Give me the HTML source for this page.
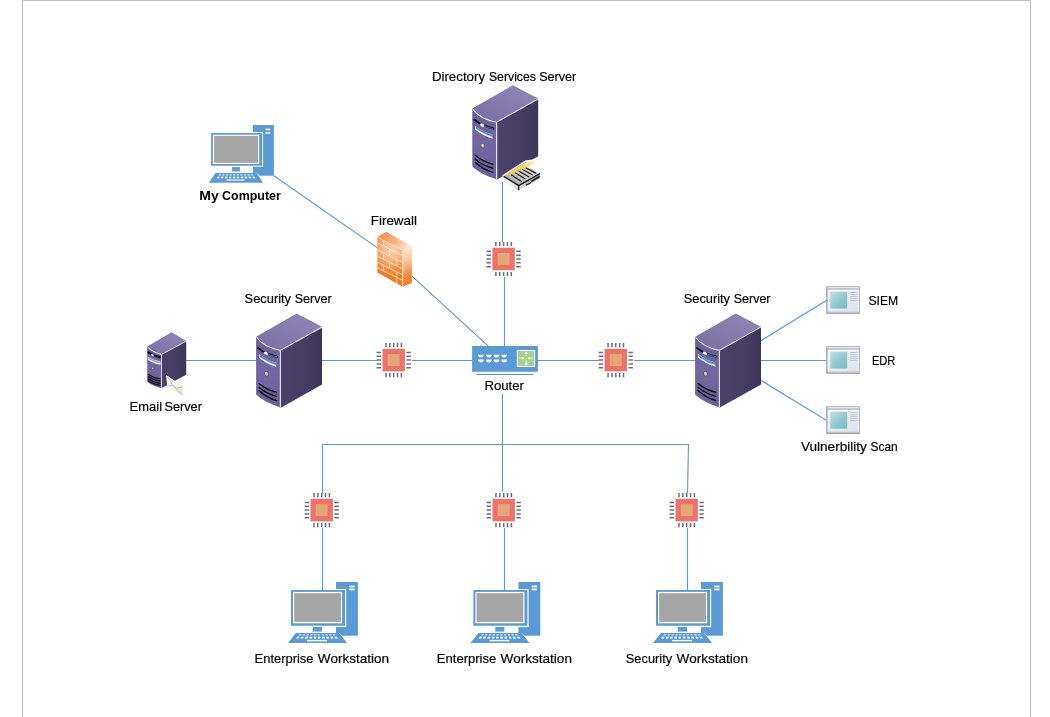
<!DOCTYPE html>
<html lang="en">
<head>
<meta charset="utf-8">
<title>Network Diagram</title>
<style>
html,body{margin:0;padding:0;background:#fff;overflow:hidden}
body{width:1050px;height:717px;position:relative}
svg{position:absolute;left:0;top:0;display:block;will-change:transform}
text{font-family:"Liberation Sans",Arial,sans-serif;font-size:12.7px;fill:#000;stroke:#000;stroke-width:0.18px}
.b{font-weight:bold;stroke-width:0}
.ln{stroke:#5b9bd5;stroke-width:1.15;fill:none}
</style>
</head>
<body>
<svg width="1050" height="717" viewBox="0 0 1050 717">
<defs>
<!-- gradients -->
<linearGradient id="gTop" x1="0" y1="1" x2="1" y2="0"><stop offset="0" stop-color="#7a6ea4"/><stop offset="1" stop-color="#9187b6"/></linearGradient>
<linearGradient id="gLeft" x1="0" y1="0" x2="0" y2="1"><stop offset="0" stop-color="#6a5e96"/><stop offset="0.5" stop-color="#7466a3"/><stop offset="1" stop-color="#6c5f99"/></linearGradient>
<linearGradient id="gRight" x1="0" y1="0" x2="1" y2="0"><stop offset="0" stop-color="#4b416b"/><stop offset="0.6" stop-color="#463d64"/><stop offset="1" stop-color="#3d3558"/></linearGradient>
<radialGradient id="gFwF" gradientUnits="userSpaceOnUse" cx="392.5" cy="250" r="27"><stop offset="0" stop-color="#fcd2b2"/><stop offset="0.35" stop-color="#fab685"/><stop offset="0.7" stop-color="#f68c40"/><stop offset="1" stop-color="#f47a20"/></radialGradient>
<linearGradient id="gFwT" gradientUnits="userSpaceOnUse" x1="380" y1="234" x2="408" y2="249"><stop offset="0" stop-color="#f68c45"/><stop offset="0.5" stop-color="#f9b283"/><stop offset="1" stop-color="#fde6d3"/></linearGradient>
<linearGradient id="gFwS" gradientUnits="userSpaceOnUse" x1="402" y1="249" x2="415" y2="282"><stop offset="0" stop-color="#fdeadb"/><stop offset="0.35" stop-color="#fbc7a3"/><stop offset="0.75" stop-color="#f58a3a"/><stop offset="1" stop-color="#f47b22"/></linearGradient>
<linearGradient id="gTeal" x1="0" y1="0" x2="1" y2="1"><stop offset="0" stop-color="#c2dfe3"/><stop offset="0.6" stop-color="#8cc5cd"/><stop offset="1" stop-color="#7bbcc6"/></linearGradient>
<linearGradient id="gWin" x1="0" y1="0" x2="1" y2="1"><stop offset="0" stop-color="#f3f6f8"/><stop offset="1" stop-color="#d9e3e6"/></linearGradient>
<linearGradient id="gYel" x1="0" y1="1" x2="1" y2="0"><stop offset="0" stop-color="#f3c22a"/><stop offset="0.6" stop-color="#f8d662"/><stop offset="1" stop-color="#fdf3cf"/></linearGradient>
<linearGradient id="gDrw" x1="0" y1="1" x2="1" y2="0"><stop offset="0" stop-color="#9a9a9a"/><stop offset="1" stop-color="#f4f4f4"/></linearGradient>
<linearGradient id="gDrwL" x1="0" y1="0" x2="1" y2="1"><stop offset="0" stop-color="#ffffff"/><stop offset="0.5" stop-color="#f1f1f1"/><stop offset="1" stop-color="#c4c4c4"/></linearGradient>
<linearGradient id="gDrwR" x1="0" y1="1" x2="1" y2="0"><stop offset="0" stop-color="#e8e8e8"/><stop offset="1" stop-color="#8a8a8a"/></linearGradient>
<linearGradient id="gEnv" gradientUnits="userSpaceOnUse" x1="168" y1="376" x2="180" y2="396"><stop offset="0" stop-color="#ffffff"/><stop offset="0.45" stop-color="#f6f3e8"/><stop offset="1" stop-color="#ebe4cd"/></linearGradient>

<!-- server 65.9 x 94.2 -->
<g id="srvBody">
  <path d="M40.6 0 L65.9 13.3 L24.9 36.6 L24.2 36.9 Q7 33.4 0 23.3 Z" fill="url(#gTop)"/>
  <path d="M0 23.3 Q7 33.4 24.2 36.9 L24.9 36.6 L24.9 94.1 L24.2 93.9 Q8 88.8 0 81.1 Z" fill="url(#gLeft)"/>
  <path d="M24.8 36.6 L65.9 13.3 L65.9 71 L24.8 94.2 Z" fill="url(#gRight)"/>
  <path d="M0.4 23.8 Q7.2 33.5 24.2 37 L65.7 13.7" fill="none" stroke="#efedf7" stroke-width="1.05"/>
  <path d="M24.3 37 L24.3 93.9" fill="none" stroke="#e8e5f2" stroke-width="1.15"/>
</g>
<g id="server">
  <use href="#srvBody"/>
  <!-- drive slot -->
  <path d="M2 34.5 Q10 40.8 21.2 43.2" fill="none" stroke="#0d0b14" stroke-width="1.9" stroke-linecap="round"/>
  <path d="M12.6 41 Q17 42.7 20.6 43.2" fill="none" stroke="#4b8fd6" stroke-width="0.8" stroke-linecap="round"/>
  <ellipse cx="9.9" cy="39.8" rx="2.4" ry="1.45" transform="rotate(24 9.9 39.8)" fill="#f4f4ec"/>
  <!-- bay -->
  <path d="M2.8 40.2 Q10.5 46.3 20.5 49 L20.5 53.4 Q10.5 50.6 2.8 44.2 Z" fill="#f7f8fc"/>
  <path d="M3.4 41 Q10.8 46.7 20.2 49.4 L20.2 51.4 Q10.8 48.8 3.4 43 Z" fill="#4a90d9"/>
  <path d="M2.9 40.3 Q10.5 46.3 20.5 49 L20.5 53" fill="none" stroke="#4a4468" stroke-width="0.5"/>
  <!-- led -->
  <ellipse cx="10.4" cy="60.4" rx="2.2" ry="2.7" transform="rotate(-12 10.4 60.4)" fill="#4a5a62"/>
  <ellipse cx="10.5" cy="60.4" rx="1.6" ry="2.1" transform="rotate(-12 10.5 60.4)" fill="#8fc4a4"/>
  <ellipse cx="10.1" cy="59.8" rx="0.9" ry="1.2" fill="#d2ecdb"/>
  <!-- vents -->
  <path d="M2.9 70 Q10.5 76.4 20.5 78.9 M2.9 73.9 Q10.5 80.3 20.5 82.9 M2.9 77.1 Q10.5 84.2 20.5 87.1" fill="none" stroke="#0d0b14" stroke-width="1.45" stroke-linecap="round"/>
</g>

<!-- chip 35x35, centre at 17.5,17.5 -->
<g id="chip">
  <rect x="6.3" y="6.3" width="22.4" height="22.4" fill="#f0706a"/>
  <rect x="11.5" y="11.5" width="12" height="12" fill="#e4a677"/>
  <path d="M9.8 0.4v4.2 M13.65 0.4v4.2 M17.5 0.4v4.2 M21.35 0.4v4.2 M25.2 0.4v4.2 M9.8 30.4v4.2 M13.65 30.4v4.2 M17.5 30.4v4.2 M21.35 30.4v4.2 M25.2 30.4v4.2 M0.4 9.8h4.4 M0.4 13.65h4.4 M0.4 17.5h4.4 M0.4 21.35h4.4 M0.4 25.2h4.4 M30.2 9.8h4.4 M30.2 13.65h4.4 M30.2 17.5h4.4 M30.2 21.35h4.4 M30.2 25.2h4.4" stroke="#6d6d7a" stroke-width="1.5" fill="none"/>
</g>

<!-- pc 70.5 x 61.1 -->
<g id="pc">
  <rect x="48.4" y="0.1" width="21.9" height="53.7" fill="#5b9bd5"/>
  <rect x="61.7" y="3.7" width="5.3" height="1.8" fill="#fff"/>
  <rect x="61.7" y="6.7" width="5.3" height="1.7" fill="#fff"/>
  <rect x="46" y="7.2" width="12.6" height="38" fill="#fff"/>
  <rect x="3.4" y="8.15" width="54" height="35.7" fill="#5b9bd5"/>
  <rect x="5.4" y="10" width="49.1" height="31.4" fill="#fff"/>
  <rect x="6.6" y="11.3" width="46.7" height="28.7" fill="#a5a5a5"/>
  <rect x="25.3" y="45.1" width="9.05" height="4.6" fill="#5b9bd5"/>
  <path d="M8.3 51.1 L51.9 51.1 L60.6 61.1 L-1 61.1 Z" fill="#fff"/>
  <path d="M8.3 51.1 L51.5 51.1 L59.5 61.1 L0.4 61.1 Z" fill="#5b9bd5"/>
  <path fill="#fff" fill-opacity="0.8" d="M11.75 52.40L13.89 52.40L13.20 53.60L10.96 53.60zM15.44 52.40L17.59 52.40L17.06 53.60L14.82 53.60zM19.14 52.40L21.28 52.40L20.92 53.60L18.68 53.60zM22.83 52.40L24.98 52.40L24.78 53.60L22.54 53.60zM26.53 52.40L28.67 52.40L28.64 53.60L26.40 53.60zM30.23 52.40L32.37 52.40L32.50 53.60L30.26 53.60zM33.92 52.40L36.07 52.40L36.36 53.60L34.12 53.60zM37.62 52.40L39.76 52.40L40.22 53.60L37.98 53.60zM41.31 52.40L43.46 52.40L44.08 53.60L41.84 53.60zM45.01 52.40L47.15 52.40L47.94 53.60L45.70 53.60z"/>
  <path fill="#fff" d="M9.59 54.90L12.08 54.90L11.13 56.50L8.52 56.50zM13.73 54.90L16.21 54.90L15.49 56.50L12.88 56.50zM17.87 54.90L20.35 54.90L19.86 56.50L17.24 56.50zM22.00 54.90L24.49 54.90L24.22 56.50L21.60 56.50zM26.14 54.90L28.62 54.90L28.58 56.50L25.96 56.50zM30.28 54.90L32.76 54.90L32.94 56.50L30.32 56.50zM34.41 54.90L36.90 54.90L37.30 56.50L34.68 56.50zM38.55 54.90L41.03 54.90L41.66 56.50L39.04 56.50zM42.69 54.90L45.17 54.90L46.02 56.50L43.41 56.50zM46.82 54.90L49.31 54.90L50.38 56.50L47.77 56.50z"/>
  <rect x="19.5" y="58" width="19.8" height="1.5" fill="#f3f8fc"/>
</g>

<!-- window 33.4 x 27.5 -->
<g id="win">
  <rect x="0.5" y="0.5" width="32.4" height="26.5" fill="#fff" stroke="#a8a8bc" stroke-width="1"/>
  <rect x="1" y="1" width="31.4" height="0.9" fill="#e2e4f0"/>
  <rect x="1" y="1.8" width="31.4" height="1.9" fill="#c0c4dc"/>
  <rect x="2" y="4.6" width="29.4" height="20.4" fill="url(#gWin)"/>
  <rect x="3.85" y="5.6" width="16.95" height="16.75" fill="url(#gTeal)"/>
  <path d="M23.7 6.3h7.2 M23.7 8.4h7.2 M23.7 10.4h7.2 M23.7 12.4h7.2 M23.7 14.3h7.2" stroke="#bac6d2" stroke-width="0.9"/>
  <path d="M1 25.4h31.4" stroke="#d4d6e6" stroke-width="1"/>
  <path d="M0 26.8h33.4" stroke="#9a9aae" stroke-width="1.2"/>
  <path d="M0.5 0.5v26.5" stroke="#a0a0b4" stroke-width="1"/>
</g>
</defs>

<!-- page border -->
<path d="M22.5 717 V0.5 H1030.5 V717" fill="none" stroke="#c0c0c0" stroke-width="1"/>

<!-- connectors -->
<g class="ln">
  <path d="M273.9 175.7 L377.4 247.9"/>
  <path d="M411.7 275.8 L488.3 346.2"/>
  <path d="M502.5 182 V242"/>
  <path d="M504.5 277 V347"/>
  <path d="M186 360.5 H257"/>
  <path d="M321 360.5 H377.2"/>
  <path d="M412 360.5 H473"/>
  <path d="M537 360.5 H599.3"/>
  <path d="M634 360.5 H696"/>
  <path d="M760.5 340.9 L826.7 300.2"/>
  <path d="M760.5 360.5 H827"/>
  <path d="M760.5 380.1 L826.7 420.4"/>
  <path d="M502.5 394 V491.8"/>
  <path d="M322.5 492.9 V444.5 H688.5 L687.5 492.9"/>
</g>

<!-- chips -->
<use href="#chip" x="486.1" y="241.5"/>
<use href="#chip" x="376.2" y="342.6"/>
<use href="#chip" x="598.3" y="342.6"/>
<use href="#chip" x="304.2" y="492.6"/>
<use href="#chip" x="486.2" y="492.6"/>
<use href="#chip" x="669.2" y="492.6"/>

<!-- servers -->
<use href="#server" x="472.3" y="85.3"/>
<use href="#server" x="256.1" y="313.5"/>
<use href="#server" x="695.1" y="313.4"/>
<g id="emailserver">
  <path d="M171.6 332.2 L186.2 341.05 L161.3 354.3 Q152 352 147.2 346.6 Z" fill="url(#gTop)"/>
  <path d="M147.2 346.6 Q152 352 161.3 354.3 L161.3 388.25 Q152 386.2 147.2 381.2 Z" fill="url(#gLeft)"/>
  <path d="M161.3 354.3 L186.2 341.05 L186.2 374.7 L161.3 388.25 Z" fill="url(#gRight)"/>
  <path d="M147.5 346.9 Q152 352.1 161.4 354.5 L186 341.3" fill="none" stroke="#ebe7f4" stroke-width="0.9"/>
  <path d="M161.5 354.6 V388" fill="none" stroke="#e6e2f0" stroke-width="0.9"/>
  <path d="M148.4 352.3 Q153 355.6 159.8 357.1" fill="none" stroke="#0d0b14" stroke-width="2.2" stroke-linecap="round"/>
  <ellipse cx="152.6" cy="355.1" rx="1.7" ry="1" transform="rotate(22 152.6 355.1)" fill="#f2f2ee"/>
  <path d="M148.1 357.3 Q153 360.4 160.1 361.8 L160.1 364.6 Q153 363 148.1 359.7 Z" fill="#eef2fa" stroke="#f6f6fb" stroke-width="0.7"/>
  <path d="M148.6 358.4 Q153 361 159.7 362.6" fill="none" stroke="#3d7fd0" stroke-width="0.9"/>
  <circle cx="152.8" cy="368.4" r="1.7" fill="#3f4f58"/>
  <circle cx="152.8" cy="368.4" r="1.05" fill="#8fcea6"/>
  <path d="M148.3 374.5 Q153 377.6 160 378.8 M148.3 376.8 Q153 379.9 160 381.1 M148.3 379.1 Q153 382.1 160 383.3 M148.3 381.3 Q153 384.2 160 385.4" fill="none" stroke="#0d0b14" stroke-width="1.3" stroke-linecap="round"/>
</g>

<!-- envelope -->
<g id="envelope">
  <path d="M166 374.8 L182.6 386.1 L182.6 396.1 L167.3 386.6 Z" fill="url(#gEnv)"/>
  <path d="M167.5 377 L173.1 385.6 L182.5 395.4 M167.8 386.2 L173 385.5 L176.6 388.1 L182.1 386.8" fill="none" stroke="#aab0b6" stroke-width="0.7"/>
</g>

<!-- directory drawer -->
<g id="drawer">
  <path d="M502.6 176 L525.2 161.4 Q531 160.2 537.4 160.4" fill="none" stroke="#fff" stroke-width="1.6"/>
  <path d="M503.4 176.2 L527.8 166.4 L540 173.4 L518.7 185.6 Z" fill="url(#gDrw)"/>
  <path d="M503.4 176.2 L518.7 185.6 L518.7 190.6 L503.4 180.8 Z" fill="url(#gDrwL)"/>
  <path d="M518.7 185.6 L540 173.4 L540 178 L518.7 190.6 Z" fill="url(#gDrwR)"/>
  <path d="M503.4 176 L525.4 162.4 Q531 161.2 536.2 161.2 Q533 163.8 531.3 165 Q527 167.8 522.9 169.9 Q518 172 512.4 173.4 Z" fill="url(#gYel)"/>
  <path d="M503.6 176.3 L518.7 185.7 L540 173.5" fill="none" stroke="#111" stroke-width="1.4" stroke-linejoin="round"/>
  <path d="M518.7 185.8 V190.3" stroke="#111" stroke-width="1.3"/>
  <path d="M511.05 174.8 L521.9 181.75 M515.2 172.7 L525.4 179 M518.7 170.9 L529.2 176.9 M522.2 169.2 L532.7 175.1 M525.7 167.8 L536.2 173.4" fill="none" stroke="#111" stroke-width="1.2"/>
  <path d="M526 185.2 L531 182.6" fill="none" stroke="#111" stroke-width="1.2"/>
  <path d="M531.3 181.6 L539.7 176.4" fill="none" stroke="#111" stroke-width="1.3"/>
</g>

<!-- firewall -->
<g id="firewall">
  <path d="M377.4 237 L386.4 231.7 L411.9 246.4 L402.7 250.1 Z" fill="url(#gFwT)"/>
  <path d="M402.7 250.1 L411.9 246.4 L411.9 283.1 L402.7 286.8 Z" fill="url(#gFwS)"/>
  <path d="M377.4 237 L402.7 250.1 L402.7 286.8 L377.4 272.5 Z" fill="url(#gFwF)"/>
  <path d="M377.7 237.3 L402.7 250.3 V286.5 M377.6 243 L402.7 255.6 M377.6 250.1 L402.7 262.4 M377.6 256.4 L402.7 268.8 M377.6 262.4 L402.7 274.8 M377.6 267.9 L402.7 280.3 M383.6 240.2 V246.1 M383.6 253.1 V259.4 M383.6 265.4 V270.9 M389.5 249 V256 M389.5 262.3 V268.3 M396.7 259.5 V265.9 M396.7 271.9 V283.2" fill="none" stroke="#f7ebd0" stroke-width="0.9"/>
  <path d="M402.9 250.2 L411.7 246.7" fill="none" stroke="#fdeee0" stroke-width="0.7"/>
</g>

<!-- router -->
<g id="router">
  <rect x="472.1" y="346" width="65.8" height="25.8" fill="#5b9bd5"/>
  <rect x="476.4" y="373.9" width="57.1" height="1.1" fill="#5b9bd5"/>
  <rect x="517.4" y="350.5" width="17.2" height="16" fill="#a9d18e" stroke="#fff" stroke-width="1.1"/>
  <path d="M519 358.2h3.4 M533.2 358.2h-3.6 M526.1 356.3v-3 M526.1 360.2v3.4" stroke="#dcecd0" stroke-width="1.3" fill="none"/>
  <path d="M522 356.4l2.3 1.8l-2.3 1.8z M530 356.4l-2.3 1.8l2.3 1.8z M524.2 353.7l1.9-2l1.9 2z M524.2 363.3l1.9 2l1.9-2z" fill="#fff"/>
  <g fill="#fff">
    <path d="M478.10 354.70h5.60v0.9q-0.4 2.00 -2.80 2.00q-2.40 0 -2.80 -2.00zM486.10 354.70h5.60v0.9q-0.4 2.00 -2.80 2.00q-2.40 0 -2.80 -2.00zM493.70 354.70h5.60v0.9q-0.4 2.00 -2.80 2.00q-2.40 0 -2.80 -2.00zM501.30 354.70h5.60v0.9q-0.4 2.00 -2.80 2.00q-2.40 0 -2.80 -2.00z"/>
    <path d="M478.10 359.50h5.60v0.9q-0.4 2.10 -2.80 2.10q-2.40 0 -2.80 -2.10zM486.10 359.50h5.60v0.9q-0.4 2.10 -2.80 2.10q-2.40 0 -2.80 -2.10zM493.70 359.50h5.60v0.9q-0.4 2.10 -2.80 2.10q-2.40 0 -2.80 -2.10zM501.30 359.50h5.60v0.9q-0.4 2.10 -2.80 2.10q-2.40 0 -2.80 -2.10z"/>
  </g>
</g>

<!-- PCs -->
<g id="mycomputer">
  <rect x="252.95" y="125.05" width="20.95" height="50.65" fill="#5b9bd5"/>
  <rect x="265.5" y="128.6" width="4.9" height="1.6" fill="#fff"/>
  <rect x="265.5" y="132.1" width="4.9" height="1.7" fill="#eaf2fa"/>
  <rect x="251" y="132" width="12.1" height="34.7" fill="#fff"/>
  <rect x="211.1" y="133.05" width="51.05" height="32.65" fill="#5b9bd5"/>
  <rect x="212.9" y="134.7" width="46.3" height="29.3" fill="#fff"/>
  <rect x="214.1" y="135.9" width="44" height="26.9" fill="#a5a5a5"/>
  <rect x="232.1" y="167.1" width="7.8" height="4.4" fill="#5b9bd5"/>
  <path d="M215.2 172.9 L257.6 172.9 L264.2 182.85 L207.8 182.85 Z" fill="#fff"/>
  <path d="M215.5 172.9 L256.6 172.9 L263.1 182.85 L208.8 182.85 Z" fill="#5b9bd5"/>
  <path fill="#fff" fill-opacity="0.8" d="M219.18 174.30L221.22 174.30L220.67 175.50L218.55 175.50zM222.70 174.30L224.74 174.30L224.32 175.50L222.20 175.50zM226.22 174.30L228.27 174.30L227.98 175.50L225.86 175.50zM229.74 174.30L231.79 174.30L231.63 175.50L229.51 175.50zM233.27 174.30L235.31 174.30L235.28 175.50L233.16 175.50zM236.79 174.30L238.83 174.30L238.94 175.50L236.82 175.50zM240.31 174.30L242.36 174.30L242.59 175.50L240.47 175.50zM243.83 174.30L245.88 174.30L246.24 175.50L244.12 175.50zM247.36 174.30L249.40 174.30L249.90 175.50L247.78 175.50zM250.88 174.30L252.92 174.30L253.55 175.50L251.43 175.50z"/>
  <path fill="#fff" d="M217.45 176.70L219.77 176.70L219.07 178.20L216.64 178.20zM221.32 176.70L223.65 176.70L223.11 178.20L220.69 178.20zM225.20 176.70L227.52 176.70L227.16 178.20L224.73 178.20zM229.07 176.70L231.40 176.70L231.20 178.20L228.77 178.20zM232.95 176.70L235.27 176.70L235.24 178.20L232.82 178.20zM236.83 176.70L239.15 176.70L239.28 178.20L236.86 178.20zM240.70 176.70L243.03 176.70L243.33 178.20L240.90 178.20zM244.58 176.70L246.90 176.70L247.37 178.20L244.94 178.20zM248.45 176.70L250.78 176.70L251.41 178.20L248.99 178.20zM252.33 176.70L254.65 176.70L255.46 178.20L253.03 178.20z"/>
  <rect x="226.5" y="179.3" width="18" height="1.6" fill="#cfe0f2"/>
</g>
<use href="#pc" x="287.6" y="581.9"/>
<use href="#pc" x="470" y="581.9"/>
<use href="#pc" x="652.6" y="581.9"/>

<g class="ln">
  <path d="M322.5 527.9 V590"/>
  <path d="M504.5 527.9 V590"/>
  <path d="M687.5 527.9 V590"/>
</g>

<!-- windows -->
<use href="#win" x="826.4" y="286.2"/>
<use href="#win" x="826.4" y="346.2"/>
<use href="#win" x="826.4" y="406.3"/>

<!-- labels -->
<text x="431.91" y="81.05" textLength="53.12" lengthAdjust="spacingAndGlyphs">Directory</text>
<text x="488.94" y="81.05" textLength="47.00" lengthAdjust="spacingAndGlyphs">Services</text>
<text x="539.23" y="81.05" textLength="36.98" lengthAdjust="spacingAndGlyphs">Server</text>
<text class="b" x="199.27" y="199.90" textLength="19.41" lengthAdjust="spacingAndGlyphs">My</text>
<text class="b" x="222.09" y="199.90" textLength="58.80" lengthAdjust="spacingAndGlyphs">Computer</text>
<text x="370.80" y="224.70" textLength="46.09" lengthAdjust="spacingAndGlyphs">Firewall</text>
<text x="244.62" y="302.80" textLength="46.41" lengthAdjust="spacingAndGlyphs">Security</text>
<text x="294.63" y="302.80" textLength="36.98" lengthAdjust="spacingAndGlyphs">Server</text>
<text x="683.72" y="302.80" textLength="46.31" lengthAdjust="spacingAndGlyphs">Security</text>
<text x="733.73" y="302.80" textLength="36.77" lengthAdjust="spacingAndGlyphs">Server</text>
<text x="129.64" y="410.80" textLength="32.43" lengthAdjust="spacingAndGlyphs">Email</text>
<text x="164.42" y="410.80" textLength="37.49" lengthAdjust="spacingAndGlyphs">Server</text>
<text x="484.42" y="389.80" textLength="39.60" lengthAdjust="spacingAndGlyphs">Router</text>
<text x="868.45" y="304.90" textLength="29.75" lengthAdjust="spacingAndGlyphs">SIEM</text>
<text x="871.89" y="364.90" textLength="23.53" lengthAdjust="spacingAndGlyphs">EDR</text>
<text x="800.94" y="450.90" textLength="65.89" lengthAdjust="spacingAndGlyphs">Vulnerbility</text>
<text x="870.56" y="450.90" textLength="27.22" lengthAdjust="spacingAndGlyphs">Scan</text>
<text x="254.64" y="662.70" textLength="58.83" lengthAdjust="spacingAndGlyphs">Enterprise</text>
<text x="317.84" y="662.70" textLength="71.34" lengthAdjust="spacingAndGlyphs">Workstation</text>
<text x="436.83" y="662.70" textLength="59.45" lengthAdjust="spacingAndGlyphs">Enterprise</text>
<text x="500.64" y="662.70" textLength="71.34" lengthAdjust="spacingAndGlyphs">Workstation</text>
<text x="625.82" y="662.70" textLength="46.31" lengthAdjust="spacingAndGlyphs">Security</text>
<text x="676.64" y="662.70" textLength="71.34" lengthAdjust="spacingAndGlyphs">Workstation</text>
</svg>
</body>
</html>
